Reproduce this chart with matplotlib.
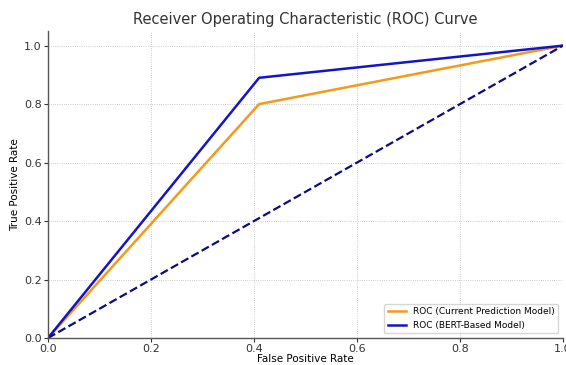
import matplotlib
matplotlib.use("Agg")
import matplotlib.pyplot as plt

# ROC points
fpr_current = [0.0, 0.41, 1.0]
tpr_current = [0.0, 0.80, 1.0]
fpr_bert = [0.0, 0.41, 1.0]
tpr_bert = [0.0, 0.89, 1.0]
chance = [0.0, 1.0]

fig = plt.figure(figsize=(5.66, 3.65), dpi=100)
ax = fig.add_axes([48 / 566, 1 - 338 / 365, 515 / 566, 307 / 365])

ax.plot(fpr_current, tpr_current, color="#f39a1c", lw=1.8, label="ROC (Current Prediction Model)")
ax.plot(fpr_bert, tpr_bert, color="#1515c8", lw=1.8, label="ROC (BERT-Based Model)")
ax.plot(chance, chance, color="#0c0c80", lw=1.6, linestyle="--")

ax.set_xlim(0.0, 1.0)
ax.set_ylim(0.0, 1.05)
ax.set_xticks([0.0, 0.2, 0.4, 0.6, 0.8, 1.0])
ax.set_yticks([0.0, 0.2, 0.4, 0.6, 0.8, 1.0])
ax.tick_params(labelsize=8, length=3, width=0.8, pad=1.5, colors="#333333")
ax.grid(True, linestyle=":", linewidth=0.6, color="#bbbbbb")

for side in ["top", "right"]:
    ax.spines[side].set_visible(False)
for side in ["left", "bottom"]:
    ax.spines[side].set_color("#555555")
    ax.spines[side].set_linewidth(1.0)

ax.set_xlabel("False Positive Rate", fontsize=7.5, labelpad=0)
ax.set_ylabel("True Positive Rate", fontsize=7.5, labelpad=3)
ax.set_title("Receiver Operating Characteristic (ROC) Curve", fontsize=10.5, color="#333333", pad=5)
ax.legend(loc="lower right", fontsize=6.5, framealpha=0.8)

fig.savefig("out.png", dpi=100)
